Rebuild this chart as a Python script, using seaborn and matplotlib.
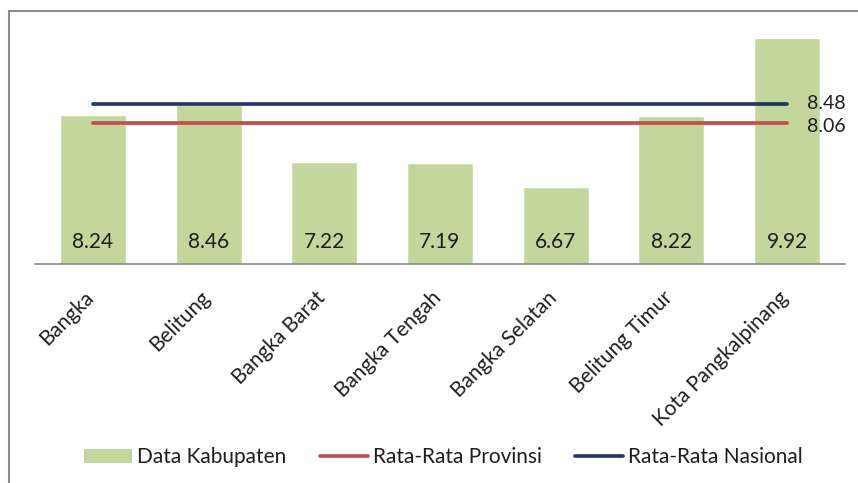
import numpy as np
import matplotlib
matplotlib.use("Agg")
import matplotlib.pyplot as plt
import matplotlib.transforms as mtransforms
from matplotlib.patches import Rectangle, Patch
from matplotlib.lines import Line2D
import seaborn as sns

# data
regions = ["Bangka", "Belitung", "Bangka Barat", "Bangka Tengah",
           "Bangka Selatan", "Belitung Timur", "Kota Pangkalpinang"]
values = [8.24, 8.46, 7.22, 7.19, 6.67, 8.22, 9.92]
rata_provinsi = 8.06
rata_nasional = 8.48
legend_labels = ["Data Kabupaten", "Rata-Rata Provinsi", "Rata-Rata Nasional"]

GREEN = "#C3D69B"
RED = "#C0504D"
BLUE = "#1F3B63"
TXT = "#1e1e1e"
FS = 15

sns.set_style("white")
plt.rcParams["font.family"] = ["Lato", "DejaVu Sans"]

fig = plt.figure(figsize=(8.58, 4.83), dpi=100)
ax = fig.add_axes([35 / 858, 1 - 264 / 483, 810 / 858, 230 / 483])

sns.barplot(x=regions, y=values, color=GREEN, width=0.57, saturation=1,
            ax=ax, zorder=1)

xs = np.arange(len(regions))
sns.lineplot(x=xs, y=[rata_provinsi] * len(regions), color=RED, lw=2.7,
             ax=ax, zorder=3, solid_capstyle="round")
sns.lineplot(x=xs, y=[rata_nasional] * len(regions), color=BLUE, lw=2.7,
             ax=ax, zorder=3, solid_capstyle="round")

ax.set_ylim(5, 10)
ax.set_xlim(-0.5, len(regions) - 0.5)

# values inside the bars, near the bottom
for i, v in enumerate(values):
    ax.text(i, 5.35, f"{v:.2f}", ha="center", va="baseline",
            fontsize=FS, color=TXT, zorder=4)

# average labels at right end of lines
ax.annotate(f"{rata_nasional:.2f}", (xs[-1], rata_nasional), xytext=(14, 0),
            textcoords="offset points", va="center", ha="left",
            fontsize=14, color=TXT)
ax.annotate(f"{rata_provinsi:.2f}", (xs[-1], rata_provinsi), xytext=(14, -2.5),
            textcoords="offset points", va="center", ha="left",
            fontsize=14, color=TXT)

# axes styling
for s in ["top", "right", "left"]:
    ax.spines[s].set_visible(False)
ax.spines["bottom"].set_color("#8a8a8a")
ax.spines["bottom"].set_linewidth(1.2)
ax.set_yticks([])
ax.set_ylabel("")
ax.set_xlabel("")
ax.tick_params(axis="x", length=0, pad=17, labelsize=FS, labelcolor=TXT)
offset = mtransforms.ScaledTranslation(5 / 100, 0, fig.dpi_scale_trans)
for lbl in ax.get_xticklabels():
    lbl.set_rotation(45)
    lbl.set_ha("right")
    lbl.set_va("top")
    lbl.set_transform(lbl.get_transform() + offset)

# legend
handles = [
    Patch(facecolor=GREEN, edgecolor="none"),
    Line2D([0], [0], color=RED, lw=2.7, solid_capstyle="round"),
    Line2D([0], [0], color=BLUE, lw=2.7, solid_capstyle="round"),
]
fig.legend(handles, legend_labels, loc="center", bbox_to_anchor=(0.517, 0.054),
           ncol=3, frameon=False, fontsize=FS, handlelength=2.3,
           handleheight=0.65, handletextpad=0.25, columnspacing=1.6,
           labelcolor=TXT)

# outer chart frame
fig.patches.append(Rectangle((9 / 858, -0.1), 1.2, 1.1 - 11 / 483,
                             transform=fig.transFigure, fill=False,
                             edgecolor="#8c8c8c", lw=1.5, clip_on=False))

fig.savefig("out.png", dpi=100)
